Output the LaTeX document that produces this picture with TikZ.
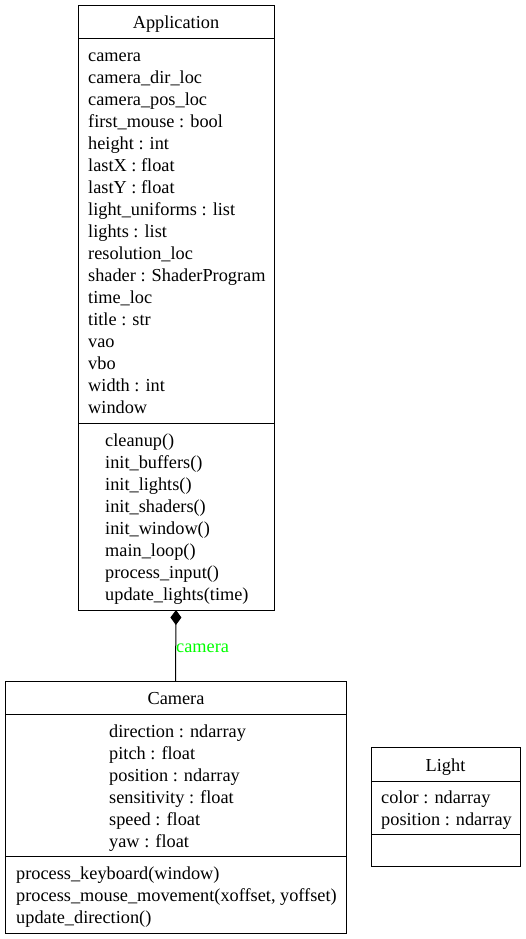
\documentclass[tikz,border=0pt]{standalone}
\usepackage{fontspec}
\setmainfont{Liberation Serif}
\usepackage{tikz}
\usetikzlibrary{arrows.meta}

\definecolor{labelgreen}{RGB}{0,255,0}

\tikzset{
  umlbox/.style={draw, line width=1pt, inner sep=0pt, outer sep=0pt},
  member/.style={anchor=base west, inner sep=0pt},
  classname/.style={anchor=base, inner sep=0pt},
  compose/.style={line width=1pt, -{Diamond[length=15pt, width=11pt]}}
}

\begin{document}
\begin{tikzpicture}[x=1pt, y=-1pt, font=\fontsize{18.3}{22}\selectfont]
			\useasboundingbox (0,0) rectangle (525,939);
			
			% Application class
			\node[umlbox, minimum width=196pt, minimum height=604pt] (app) at (176,308) {};
			\node[classname] (appname) at (176,29) {Application};
			\draw[line width=1pt] (app.west |- 0,39) -- (app.east |- 0,39);
			\draw[line width=1pt] (app.west |- 0,423) -- (app.east |- 0,423);
			\foreach \t [count=\i] in {camera, camera\_dir\_loc, camera\_pos\_loc, first\_mouse : bool,
				height : int, lastX : float, lastY : float, light\_uniforms : list, lights : list,
				resolution\_loc, shader : ShaderProgram, time\_loc, title : str, vao, vbo,
				width : int, window} {
				\node[member] (appattr\i) at (88, 62+21.94*\i-21.94) {\t};
			}
			\foreach \t [count=\i] in {cleanup(), init\_buffers(), init\_lights(), init\_shaders(),
				init\_window(), main\_loop(), process\_input(), update\_lights(time)} {
				\node[member] (appop\i) at (105, 446+22*\i-22) {\t};
			}
			
			% Camera class
			\node[umlbox, minimum width=341pt, minimum height=252pt] (cam) at (175.5,807) {};
			\node[classname] (camname) at (176,704) {Camera};
			\draw[line width=1pt] (cam.west |- 0,714) -- (cam.east |- 0,714);
			\draw[line width=1pt] (cam.west |- 0,856) -- (cam.east |- 0,856);
			\foreach \t [count=\i] in {direction : ndarray, pitch : float, position : ndarray,
				sensitivity : float, speed : float, yaw : float} {
				\node[member] (camattr\i) at (109, 737+22*\i-22) {\t};
			}
			\foreach \t [count=\i] in {process\_keyboard(window),
				{process\_mouse\_movement(xoffset, yoffset)}, update\_direction()} {
				\node[member] (camop\i) at (16, 879+22*\i-22) {\t};
			}
			
			% Light class
			\node[umlbox, minimum width=149pt, minimum height=119pt] (light) at (445.5,806.5) {};
			\node[classname] (lightname) at (445.5,771) {Light};
			\draw[line width=1pt] (light.west |- 0,781) -- (light.east |- 0,781);
			\draw[line width=1pt] (light.west |- 0,834) -- (light.east |- 0,834);
			\foreach \t [count=\i] in {color : ndarray, position : ndarray} {
				\node[member] (lightattr\i) at (381, 803+22*\i-22) {\t};
			}
			
			% Composition
			\draw[compose] (cam.north) -- (app.south);
			\node[member, text=labelgreen] (camlabel) at (176,652) {camera};
			
		\end{tikzpicture}
\end{document}
